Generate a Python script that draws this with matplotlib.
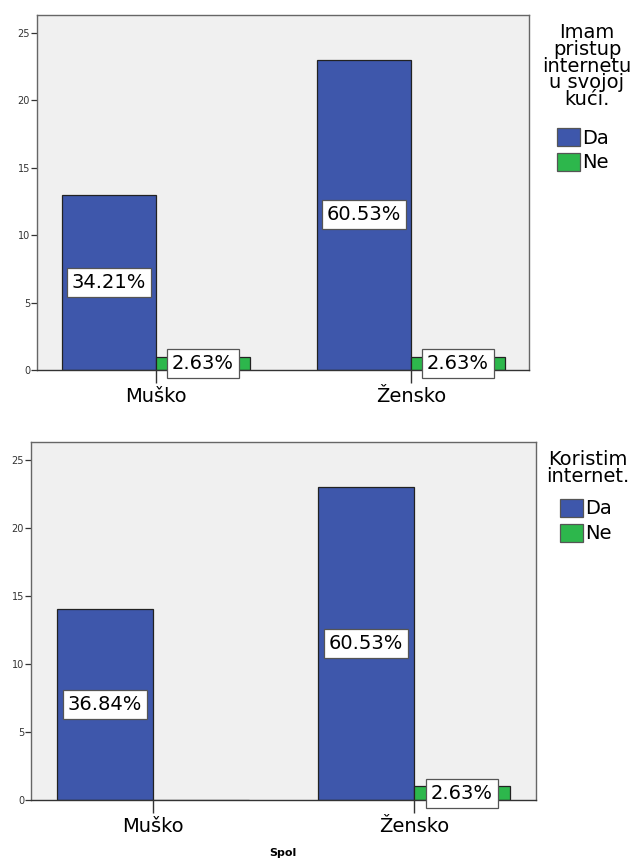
import matplotlib
matplotlib.use("Agg")
import matplotlib.pyplot as plt
from matplotlib.patches import Rectangle
import numpy as np

plt.rcParams['font.family'] = ['DejaVu Sans']

# Podaci
kategorije = ["Muško", "Žensko"]
odgovori = ["Da", "Ne"]
boje = ["#3E57AB", "#2DB74C"]

pristup_da = [13, 23]
pristup_ne = [1, 1]
koristim_da = [14, 23]
koristim_ne = [0, 1]
ukupno = 38

naslov_gore = "Imam\npristup\ninternetu\nu svojoj\nkući."
naslov_dolje = "Koristim\ninternet."

fig = plt.figure(figsize=(6.37, 8.6), dpi=100)
W, H = 637, 860


def graf(pozicija, da, ne, xlim):
    ax = fig.add_axes(pozicija)
    ax.set_facecolor("#F0F0F0")
    x = np.arange(len(kategorije))
    w = 0.368
    for vrijednosti, boja, pomak in ((da, boje[0], -w / 2), (ne, boje[1], w / 2)):
        bars = ax.bar(x + pomak, vrijednosti, width=w, color=boja,
                      edgecolor="#222222", linewidth=0.9, zorder=2)
        for b, v in zip(bars, vrijednosti):
            if v == 0:
                continue
            ax.text(b.get_x() + b.get_width() / 2, v / 2,
                    "%.2f%%" % (100 * v / ukupno), fontsize=14,
                    ha="center", va="center", zorder=3,
                    bbox=dict(boxstyle="square,pad=0.25", fc="white",
                              ec="#555555", lw=0.9))
    ax.set_xlim(*xlim)
    ax.set_ylim(0, 26.3)
    ax.set_yticks([0, 5, 10, 15, 20, 25])
    ax.set_xticks(x)
    ax.set_xticklabels(kategorije, fontsize=14)
    ax.tick_params(axis="y", labelsize=7, colors="#333333", length=4,
                   width=0.9, pad=1)
    ax.tick_params(axis="x", length=9, width=1.0, color="#333333", pad=3)
    for s in ax.spines.values():
        s.set_color("#666666")
        s.set_linewidth(1.0)
    ax.spines["bottom"].set_color("#333333")
    return ax


graf([37 / W, 1 - 370 / H, 492 / W, 355 / H], pristup_da, pristup_ne,
     (-0.467, 1.463))
graf([31 / W, 1 - 800 / H, 505 / W, 358 / H], koristim_da, koristim_ne,
     (-0.467, 1.467))

# Legenda gore
fig.text(587 / W, 1 - 23 / H, naslov_gore, ha="center", va="top",
         fontsize=14, linespacing=0.85)
# Legenda dolje
fig.text(588 / W, 1 - 450 / H, naslov_dolje, ha="center", va="top",
         fontsize=14, linespacing=0.85)

for (xp, yp) in ((557, 128), (560, 499)):
    for i, (odg, boja) in enumerate(zip(odgovori, boje)):
        y0 = yp + i * 24.5
        fig.add_artist(Rectangle((xp / W, 1 - (y0 + 18) / H), 23 / W, 18 / H,
                                 transform=fig.transFigure, fc=boja,
                                 ec="#555555", lw=0.9))
        fig.text((xp + 25) / W, 1 - (y0 + 10) / H, odg, fontsize=14,
                 ha="left", va="center")

fig.text(283 / W, 1 - 853 / H, "Spol", fontsize=8, fontweight="bold",
         ha="center", va="center")

fig.savefig("out.png", dpi=100)
